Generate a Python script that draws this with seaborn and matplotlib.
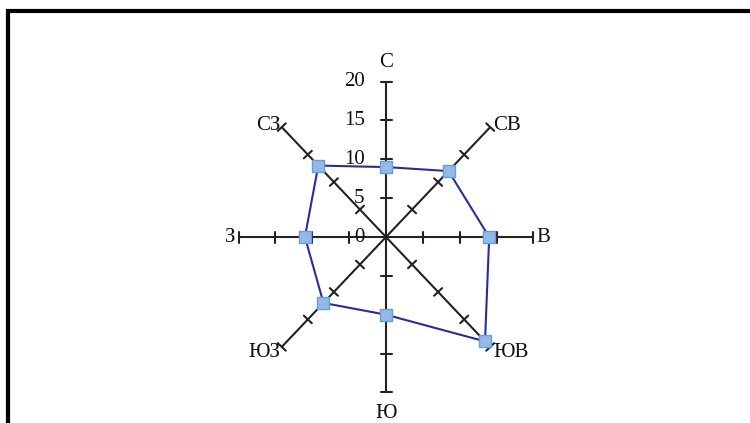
"""Wind rose (radar-style) chart with seaborn/matplotlib."""

import numpy as np
import pandas as pd
import matplotlib
matplotlib.use("Agg")
import matplotlib.pyplot as plt
from matplotlib.patches import Rectangle
import seaborn as sns

# data
directions = ["С", "СВ", "В", "ЮВ", "Ю", "ЮЗ", "З", "СЗ"]
values = [9, 12, 14, 19, 10, 12, 11, 13]
tick_values = [5, 10, 15, 20]
scale_labels = ["0", "5", "10", "15", "20"]
axis_max = 20

sns.set_style("white")
plt.rcParams["font.family"] = ["Liberation Serif", "DejaVu Serif"]

W, H = 750, 423
fig = plt.figure(figsize=(W / 100, H / 100), dpi=100)
ax = fig.add_axes([0, 0, 1, 1])

# pixel geometry of the reference: centre and px per unit
cx, cy = 386.0, 237.0
sx, sy = 7.37, 7.77
ax.set_xlim(-cx / sx, (W - cx) / sx)
ax.set_ylim((cy - H) / sy, cy / sy)
ax.axis("off")

angles = np.deg2rad(90 - 45 * np.arange(len(directions)))

# axes lines with tick marks
axis_color = "#222222"
for ang in angles:
    dx, dy = np.cos(ang), np.sin(ang)
    ax.plot([0, axis_max * dx], [0, axis_max * dy], color=axis_color, lw=1.5,
            solid_capstyle="butt", zorder=2)
    # perpendicular in pixel space, converted back to data units
    px, py = -dy * sy, dx * sx
    norm = np.hypot(px, py)
    px, py = px / norm * 5.5 / sx, py / norm * 5.5 / sy
    for t in tick_values:
        ax.plot([t * dx - px, t * dx + px], [t * dy - py, t * dy + py],
                color=axis_color, lw=1.5, zorder=2)

# scale labels on the north axis
for i, lab in enumerate(scale_labels):
    ax.text(-2.9, i * 5, lab, ha="right", va="center", fontsize=15,
            color="#111111")

# direction labels
label_pos = {
    "С": (0, 22.5, "center"),
    "СВ": (14.6, 14.3, "left"),
    "В": (20.4, 0, "left"),
    "ЮВ": (14.6, -14.9, "left"),
    "Ю": (0, -22.7, "center"),
    "ЮЗ": (-14.3, -14.9, "right"),
    "З": (-20.4, 0, "right"),
    "СЗ": (-14.3, 14.3, "right"),
}
for d in directions:
    x, y, ha = label_pos[d]
    ax.text(x, y, d, ha=ha, va="center", fontsize=15, color="#111111")

# data polygon
df = pd.DataFrame({
    "direction": directions,
    "value": values,
    "x": np.array(values) * np.cos(angles),
    "y": np.array(values) * np.sin(angles),
})
df_closed = pd.concat([df, df.iloc[[0]]], ignore_index=True)

sns.lineplot(data=df_closed, x="x", y="y", sort=False, estimator=None,
             color="#2b2b9b", lw=1.5, ax=ax, zorder=3)
sns.scatterplot(data=df, x="x", y="y", marker="s", s=65, color="#95b9e6",
                edgecolor="#6a9edb", linewidth=1.0, ax=ax, zorder=4)
ax.set_xlim(-cx / sx, (W - cx) / sx)
ax.set_ylim((cy - H) / sy, cy / sy)

# outer frame (cropped at right and bottom)
fig.patches.append(Rectangle((7.5 / W, -0.2), 1.2, 1 - 11.5 / H + 0.2,
                             transform=fig.transFigure, fill=False,
                             edgecolor="black", lw=3.0, zorder=10))

fig.savefig("out.png", dpi=100)
